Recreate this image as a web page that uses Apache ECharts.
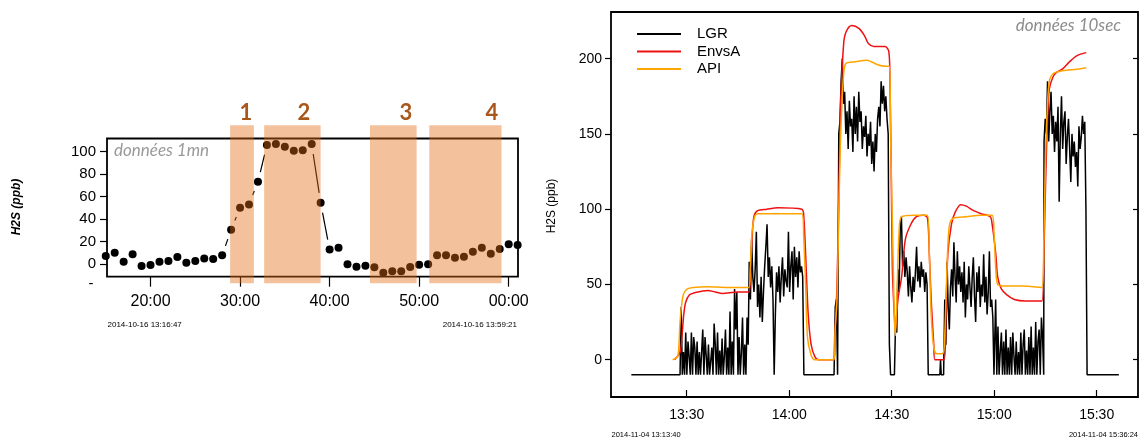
<!DOCTYPE html>
<html>
<head>
<meta charset="utf-8">
<title>H2S (ppb)</title>
<script src="https://cdn.jsdelivr.net/npm/echarts@6/dist/echarts.min.js"></script>
<style>
  html, body { margin: 0; padding: 0; background: #fff; }
  #chart { width: 1140px; height: 439px; }
</style>
</head>
<body>
<div id="chart"></div>
<script>
// ---------- left panel: 1-minute means, 2014-10-16 (minutes past 13:00) ----------
const firstMinute = 15;
const h2s1mn = [7.1, 10.1, 2.1, 8.6, -1.8, -0.9, 2.1, 2.7, 6.2, 1.2, 2.7, 5.0, 4.4, 7.7,
  30.5, 50.0, 53.0, 73.2, 106.0, 106.7, 104.3, 100.7, 101.3, 106.7, 54.5, 13.0, 14.5,
  -0.3, -2.4, -1.5, -3.0, -7.7, -6.5, -6.5, -2.7, -0.6, -0.3, 7.7, 7.7, 5.6, 6.5, 10.9,
  14.5, 9.2, 13.3, 17.5, 16.9];

// highlighted periods (minutes past 13:00) and their numbers
const bandStart = [28.89, 32.69, 44.51, 51.13];
const bandEnd = [31.54, 39.0, 49.72, 59.2];
const bandNames = ['1', '2', '3', '4'];

const leftTickMinutes = [20, 30, 40, 50, 60];
const leftTickValues = [0, 20, 40, 60, 80, 100];

// ---------- right panel: 10-second data, 2014-11-04 (minutes past 13:00) ----------
const lgrFloor = -10;
const lgrRecordStart = 13.8;
const lgrRecordEnd = 156.5;

const lgrA = [-10, 35, -10, 5, -10, 18, -10, 12, 2, -10, 18, -10, 15, 8, -10, 12, -10, 5, -10, -10,
  20, -10, 15, 3, -10, 10, -10, -10, 8, -10, 24, 10, -10, 18, -10, 6, -10, 14, -10, 2, 20, -10, 8,
  -10, 32, -10, 12, -10, 47, 20, 45, -10, 15, -10, 5, 28, -10, 10, -10, 28, 10];
const lgrB = [65, 40, 80, 55, 45, 60, 85, 35, 50, 28, 55, 25, 45, 62, 75, 90, 55, 68, 48, 62, 40,
  -10, 30, 58, 45, 62, 38, 55, 68, 42, 60, 52, 48, 85, 45, 62, 72, 40, 75, 55, 68, 48, 72, 58, 62,
  55, -10];
const lgrC = [-10, 35, 40, -10, 150, 158, 185, 200, 170, 178, 150, 165, 140, 172, 155, 160, 138, 175,
  150, 168, 145, 178, 158, 165, 140, 155, 148, 162, 135, 150, 142, 158, 130, 145, 125, 150, 138, 160,
  168, 155, 185, 170, 182, 165, 175, 160, 150, 10, -10];
const lgrD = [-10, 25, 18, 60, 45, 88, 95, 62, 72, 55, 68, 58, 42, 62, 48, 38, 55, 45, 58, 75, 52, 62,
  48, 65, 55, 60, 45, 58, 50, -10];
const lgrBlip = [-10, 0, -10];
const lgrE = [-10, 40, 10, 65, 35, 20, 48, 60, 42, 78, 55, 38, 72, 50, 62, 45, 58, 38, 65, 28, 50, 40,
  62, 48, 35, 55, 68, 42, 25, 58, 45, 62, 35, 50, 42, 70, 38, 55, 30, 45, 72, 35, 40, 28, -10];
const lgrF = [-10, 40, -10, 22, -10, 5, 18, -10, 12, -10, 20, -10, 8, -10, 15, -10, 18, 2, -10, 12,
  -10, 5, -10, 18, -10, 10, 20, -10, 6, -10, 15, -10, 22, -10, 8, -10, 25, -10, 12, 20, -10, 28, 15, -10];
const lgrG = [145, 160, 150, 185, 145, 165, 178, 150, 162, 138, 158, 145, 168, 105, 150, 175, 140, 158,
  165, 130, 148, 160, 140, 118, 150, 135, 145, 128, 138, 115, 155, 140, 148, 162, 150, 158, 100, -10];
const lgrBlocks = [lgrA, lgrB, lgrC, lgrD, lgrBlip, lgrE, lgrF, lgrG];
const lgrBlockStart = [28.05, 48.3, 73.13, 90.8, 104.1, 105.2, 120.1, 134.6];
const lgrBlockEnd = [48.0, 64.3, 89.67, 100.7, 104.5, 119.94, 134.5, 147.2];

// [minutes past 13:00, ppb]
const envsAData = [[26.43, 0], [28.05, 5], [28.6, 15], [29.14, 30], [29.68, 38], [30.76, 43], [32.38, 44.5],
  [36.16, 46], [38.32, 45], [40.49, 44], [44.81, 45], [48.27, 45], [48.59, 55], [49.13, 80], [49.67, 95],
  [50.76, 99], [53.46, 100], [56.7, 101], [63.73, 100], [64.27, 95], [64.81, 70], [65.57, 30], [66.43, 10],
  [67.51, 2], [68.59, 0], [73.13, 0], [73.46, 20], [74.0, 50], [74.54, 110], [75.08, 170], [75.94, 210],
  [76.7, 218], [78.32, 222], [80.48, 220], [82.1, 215], [83.18, 210], [84.81, 208], [88.05, 208],
  [89.13, 205], [89.46, 190], [89.89, 120], [90.21, 60], [90.76, 30], [91.08, 20], [91.83, 40],
  [92.91, 55], [94.0, 80], [95.62, 90], [97.24, 95], [99.4, 96], [100.48, 94], [101.02, 70],
  [101.56, 40], [102.32, 10], [102.64, 0], [105.35, 0], [105.89, 30], [106.43, 70], [107.51, 90],
  [108.59, 98], [110.21, 103], [111.83, 102], [113.99, 99], [116.16, 97], [118.86, 95], [119.4, 90],
  [120.48, 70], [121.02, 55], [122.1, 47], [123.72, 43], [125.89, 40], [129.13, 39], [134.0, 39],
  [134.54, 70], [135.08, 120], [135.62, 160], [136.16, 180], [137.24, 188], [138.32, 191],
  [139.94, 193], [142.1, 198], [144.26, 202], [146.96, 204]];

const apiData = [[25.89, 0], [27.3, 2], [27.73, 10], [28.05, 25], [28.6, 38], [29.14, 44], [30.22, 47],
  [31.84, 48], [36.16, 48.5], [41.57, 48], [48.27, 48], [48.59, 60], [49.13, 85], [49.89, 95],
  [50.76, 97], [57.78, 97], [63.73, 97], [64.27, 80], [64.81, 50], [65.35, 15], [66.43, 3], [67.51, 0],
  [73.13, 0], [73.46, 20], [74.0, 40], [74.54, 100], [75.08, 150], [75.94, 190], [76.7, 197],
  [79.4, 198], [82.64, 199], [85.89, 196], [88.05, 195], [89.35, 195], [89.67, 150], [90.21, 90],
  [90.76, 30], [91.08, 16], [91.51, 40], [92.16, 85], [92.91, 95], [96.7, 96], [100.48, 96],
  [101.02, 70], [101.56, 30], [102.32, 8], [103.18, 4], [104.8, 4], [105.35, 8], [105.89, 40],
  [106.43, 75], [106.97, 90], [108.05, 94], [111.83, 95], [116.16, 96], [119.4, 96], [119.94, 85],
  [120.48, 60], [121.02, 50], [122.64, 49], [128.05, 49], [134.0, 48], [134.54, 80], [135.08, 140],
  [135.62, 170], [136.16, 185], [137.24, 190], [139.94, 192], [144.26, 193], [146.96, 194]];

const rightTickMinutes = [30, 60, 90, 120, 150];
const rightTickValues = [0, 50, 100, 150, 200];

// ---------- build series data ----------
const points1mn = h2s1mn.map((v, i) => [firstMinute + i, v]);
const segments1mn = [];
for (let i = 0; i < points1mn.length - 1; i++) {
  segments1mn.push([points1mn[i][0], points1mn[i][1], points1mn[i + 1][0], points1mn[i + 1][1]]);
}
const bandData = bandStart.map((s, i) => [s, bandEnd[i], 0]);

const lgrData = [[lgrRecordStart, lgrFloor]];
lgrBlocks.forEach((vals, b) => {
  const t0 = lgrBlockStart[b];
  const step = (lgrBlockEnd[b] - t0) / (vals.length - 1);
  vals.forEach((v, i) => lgrData.push([t0 + i * step, v]));
});
lgrData.push([lgrRecordEnd, lgrFloor]);

// ---------- drawing helpers ----------
const FONT = '"Liberation Sans", Arial, sans-serif';

// connecting segments that stop short of each dot (R type="b" look)
function renderGapSegment(params, api) {
  const a = api.coord([api.value(0), api.value(1)]);
  const b = api.coord([api.value(2), api.value(3)]);
  const dx = b[0] - a[0], dy = b[1] - a[1];
  const len = Math.hypot(dx, dy);
  const gap = 10;
  if (len <= 2 * gap) return { type: 'group', children: [] };
  const ux = dx / len, uy = dy / len;
  return {
    type: 'line',
    shape: { x1: a[0] + ux * gap, y1: a[1] + uy * gap, x2: b[0] - ux * gap, y2: b[1] - uy * gap },
    style: { stroke: '#000', lineWidth: 1.2 }
  };
}

// translucent bands that overhang the plot frame
function renderBand(params, api) {
  const cs = params.coordSys;
  const x0 = api.coord([api.value(0), 0])[0];
  const x1 = api.coord([api.value(1), 0])[0];
  return {
    type: 'rect',
    shape: { x: x0, y: cs.y - 13.3, width: x1 - x0, height: cs.height + 19.9 },
    style: { fill: 'rgba(226,110,20,0.42)' }
  };
}

const pad2 = n => String(n).padStart(2, '0');
const leftLabel = v => pad2(Math.round(v) % 60) + ':00';
const rightLabel = v => (13 + Math.floor(v / 60)) + ':' + pad2(Math.round(v) % 60);

const tickStyle = { color: '#000', width: 1.2 };
const hiddenLine = { show: false, onZero: false };

const chart = echarts.init(document.getElementById('chart'), null, { renderer: 'canvas' });

chart.setOption({
  animation: false,
  backgroundColor: '#fff',
  grid: [
    { left: 107, top: 138.5, width: 411, height: 138.2, show: true, borderColor: '#000', borderWidth: 1.8, backgroundColor: 'transparent' },
    { left: 611, top: 12, width: 527, height: 385, show: true, borderColor: '#000', borderWidth: 1.8, backgroundColor: 'transparent' }
  ],
  xAxis: [
    {
      gridIndex: 0, type: 'value', min: 15.14, max: 61.04, position: 'bottom',
      axisLine: hiddenLine, splitLine: { show: false },
      axisTick: { show: true, customValues: leftTickMinutes, length: 10, lineStyle: tickStyle },
      axisLabel: { customValues: leftTickMinutes, formatter: leftLabel, color: '#000', fontSize: 16, fontFamily: FONT, margin: 17 }
    },
    {
      gridIndex: 1, type: 'value', min: 7.84, max: 162.1, position: 'bottom',
      axisLine: hiddenLine, splitLine: { show: false },
      axisTick: { show: true, inside: true, customValues: rightTickMinutes, length: 7, lineStyle: tickStyle },
      axisLabel: { customValues: rightTickMinutes, formatter: rightLabel, color: '#000', fontSize: 14, fontFamily: FONT, margin: 11 }
    }
  ],
  yAxis: [
    {
      gridIndex: 0, type: 'value', min: -11.3, max: 111.7, position: 'left',
      axisLine: hiddenLine, splitLine: { show: false },
      axisTick: { show: true, customValues: leftTickValues, length: 7, lineStyle: tickStyle },
      axisLabel: { customValues: leftTickValues, color: '#000', fontSize: 15, fontFamily: FONT, margin: 11 }
    },
    {
      gridIndex: 1, type: 'value', min: -24.8, max: 231, position: 'left',
      axisLine: hiddenLine, splitLine: { show: false },
      axisTick: { show: true, customValues: rightTickValues, length: 6, lineStyle: tickStyle },
      axisLabel: { customValues: rightTickValues, color: '#000', fontSize: 14, fontFamily: FONT, margin: 9 }
    },
    {
      gridIndex: 1, type: 'value', position: 'right', min: -24.8, max: 231,
      axisLine: hiddenLine, splitLine: { show: false },
      axisTick: { show: true, inside: true, customValues: rightTickValues, length: 5, lineStyle: tickStyle },
      axisLabel: { show: false }
    }
  ],
  legend: {
    data: ['LGR', 'EnvsA', 'API'],
    orient: 'vertical', left: 632, top: 21,
    icon: 'rect', itemWidth: 44, itemHeight: 2, itemGap: 1.5,
    textStyle: { color: '#000', fontSize: 15, fontFamily: FONT, lineHeight: 16, padding: [0, 0, 0, 11] },
    selectedMode: false
  },
  series: [
    {
      name: 'segments', type: 'custom', xAxisIndex: 0, yAxisIndex: 0,
      renderItem: renderGapSegment, data: segments1mn,
      encode: { x: [0, 2], y: [1, 3] }, z: 2, silent: true
    },
    {
      name: 'H2S 1mn', type: 'scatter', xAxisIndex: 0, yAxisIndex: 0,
      data: points1mn, symbol: 'circle', symbolSize: 8,
      itemStyle: { color: '#000', opacity: 1 }, z: 3, silent: true, clip: false
    },
    {
      name: 'periods', type: 'custom', xAxisIndex: 0, yAxisIndex: 0,
      renderItem: renderBand, data: bandData,
      encode: { x: [0, 1], y: 2 }, z: 4, silent: true
    },
    {
      name: 'LGR', type: 'line', xAxisIndex: 1, yAxisIndex: 1,
      data: lgrData, showSymbol: false, symbol: 'none',
      lineStyle: { color: '#000', width: 1.5 }, itemStyle: { color: '#000' }, z: 2, silent: true
    },
    {
      name: 'EnvsA', type: 'line', xAxisIndex: 1, yAxisIndex: 1,
      data: envsAData, showSymbol: false, symbol: 'none', smooth: 0.3,
      lineStyle: { color: '#ee1111', width: 1.5 }, itemStyle: { color: '#ee1111' }, z: 3, silent: true
    },
    {
      name: 'API', type: 'line', xAxisIndex: 1, yAxisIndex: 1,
      data: apiData, showSymbol: false, symbol: 'none', smooth: 0.3,
      lineStyle: { color: '#ffa500', width: 1.5 }, itemStyle: { color: '#ffa500' }, z: 4, silent: true
    }
  ],
  graphic: [
    // left panel texts
    { type: 'text', x: 17, y: 207, rotation: Math.PI / 2, style: { text: 'H2S (ppb)', font: 'italic bold 12px ' + FONT, fill: '#000', align: 'center', verticalAlign: 'middle' } },
    { type: 'text', x: 114, y: 151, style: { text: 'données 1mn', font: 'italic 17px Lato, "Open Sans", sans-serif', fill: '#999', align: 'left', verticalAlign: 'middle' } },
    { type: 'text', x: 91, y: 284, style: { text: '-', font: '15px ' + FONT, fill: '#000', align: 'center', verticalAlign: 'middle' } },
    { type: 'text', x: 107.5, y: 325, style: { text: '2014-10-16 13:16:47', font: '8px ' + FONT, fill: '#000', align: 'left', verticalAlign: 'middle' } },
    { type: 'text', x: 517, y: 325, style: { text: '2014-10-16 13:59:21', font: '8px ' + FONT, fill: '#000', align: 'right', verticalAlign: 'middle' } },
    { type: 'text', x: 246, y: 113, style: { text: bandNames[0], font: 'bold 22px Lato, sans-serif', fill: '#a9561b', align: 'center', verticalAlign: 'middle' } },
    { type: 'text', x: 304, y: 113, style: { text: bandNames[1], font: 'bold 22px Lato, sans-serif', fill: '#a9561b', align: 'center', verticalAlign: 'middle' } },
    { type: 'text', x: 406, y: 113, style: { text: bandNames[2], font: 'bold 22px Lato, sans-serif', fill: '#a9561b', align: 'center', verticalAlign: 'middle' } },
    { type: 'text', x: 492, y: 113, style: { text: bandNames[3], font: 'bold 22px Lato, sans-serif', fill: '#a9561b', align: 'center', verticalAlign: 'middle' } },
    // right panel texts
    { type: 'text', x: 552, y: 206, rotation: Math.PI / 2, style: { text: 'H2S (ppb)', font: '12px ' + FONT, fill: '#000', align: 'center', verticalAlign: 'middle' } },
    { type: 'text', x: 1121, y: 26, style: { text: 'données 10sec', font: 'italic 17px Lato, "Open Sans", sans-serif', fill: '#8c8c8c', align: 'right', verticalAlign: 'middle' } },
    { type: 'text', x: 611.5, y: 435, style: { text: '2014-11-04 13:13:40', font: '7.5px ' + FONT, fill: '#000', align: 'left', verticalAlign: 'middle' } },
    { type: 'text', x: 1138, y: 435, style: { text: '2014-11-04 15:36:24', font: '7.5px ' + FONT, fill: '#000', align: 'right', verticalAlign: 'middle' } }
  ]
});
</script>
</body>
</html>
